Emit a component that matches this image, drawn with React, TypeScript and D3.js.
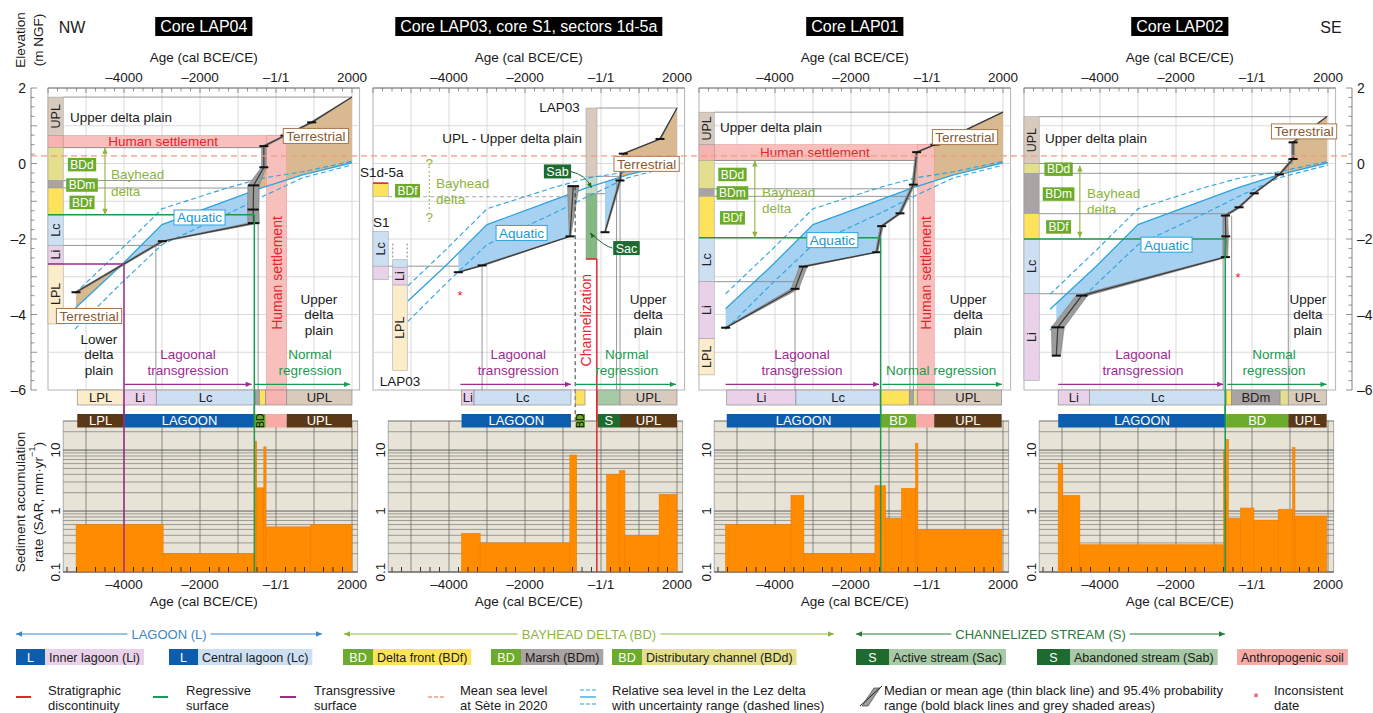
import React from 'react';
import * as d3 from 'd3';

const FONT = '"Liberation Sans", Arial, Helvetica, sans-serif';
const W = 1373;
const H = 713;

/* ------------------------------- data ------------------------------- */
const panelTitles = ['Core LAP04', 'Core LAP03, core S1, sectors 1d-5a', 'Core LAP01', 'Core LAP02'];
const ageTickValues = [-4000, -2000, 0, 2000];
const ageTickLabels = ['\u20134000', '\u20132000', '\u20131/1', '2000'];
const elevTickValues = [2, 0, -2, -4, -6];
const elevTickLabels = ['2', '0', '\u20132', '\u20134', '\u20136'];
const sarTickValues = [0.1, 1, 10];
const sarTickLabels = ['0.1', '1', '10'];
const meanSeaLevelSete2020 = 0.2;

// relative sea level in the Lez delta [year, elevation m NGF]
const rslCenter = [[-5300, -3.85], [-4100, -2.72], [-3000, -1.62], [-1200, -0.95], [-400, -0.65], [700, -0.3], [2000, 0.02]];
const rslUpper = [[-5300, -3.45], [-4100, -2.3], [-3000, -1.2], [-1200, -0.62], [-300, -0.38], [700, -0.22], [2000, 0.06]];
const rslLower = [[-5300, -4.4], [-4100, -3.2], [-3000, -2.15], [-1200, -1.3], [-300, -0.85], [700, -0.38], [2000, -0.04]];
const rslStartYear = [-5290, -5080, -5300, -5320];

// age-depth models [year, elevation, half range of 95.4% probability (years)]
const ageDepthLAP04 = [[-5263, -3.41, 40], [-2990, -2.06, 50], [-590, -1.58, 150], [-600, -1.22, 150], [-590, -0.58, 150], [-320, -0.1, 60], [-320, 0.46, 60], [237, 0.74, 30], [939, 1.09, 40], [2000, 1.76, 0]];
const ageDepthLAP03a = [[-3755, -2.88, 40], [-3130, -2.7, 60], [-815, -1.93, 20], [-730, -0.6, 150]];
const ageDepthLAP03b = [[105, -1.82, 15], [500, -0.45, 30], [587, 0.26, 20], [1553, 0.65, 20], [2000, 1.47, 0]];
const ageDepthLAP01 = [[-5298, -4.35, 30], [-3474, -3.32, 100], [-3255, -2.73, 100], [-1325, -2.35, 30], [-1193, -1.66, 40], [-711, -1.32, 40], [-360, -0.56, 40], [-272, 0.3, 30], [210, 0.5, 30], [2000, 1.36, 0]];
const ageDepthLAP02 = [[-5150, -5.09, 110], [-5110, -4.34, 170], [-4480, -3.5, 150], [-700, -2.48, 60], [-690, -1.93, 70], [-700, -1.38, 60], [-340, -1.16, 40], [60, -0.79, 30], [720, -0.29, 30], [1080, 0.12, 40], [1080, 0.56, 40], [1980, 1.25, 0]];

// core logs [facies, top, bottom, label]
const columnLAP04 = [['UPL', 1.76, 0.74, 'UPL'], ['HS', 0.74, 0.42, ''], ['BDd', 0.42, -0.45, ''], ['BDm', -0.45, -0.65, ''], ['BDf', -0.65, -1.36, ''], ['Lc', -1.36, -2.17, 'Lc'], ['Li', -2.17, -2.66, 'Li'], ['LPL', -2.66, -4.25, 'LPL']];
const columnS1d5a = [['BDf', -0.52, -0.87, '']];
const columnS1 = [['Lc', -1.8, -2.72, 'Lc'], ['Li', -2.72, -3.08, '']];
const columnLAP03low = [['Lc', -2.55, -2.75, ''], ['Li', -2.75, -3.22, 'Li'], ['LPL', -3.22, -5.48, 'LPL']];
const columnLAP03up = [['UPL', 1.47, -0.34, ''], ['Sab', -0.34, -0.8, ''], ['Sac', -0.8, -2.53, '']];
const columnLAP01 = [['UPL', 1.36, 0.5, 'UPL'], ['HS', 0.5, 0.08, ''], ['BDd', 0.08, -0.67, ''], ['BDm', -0.67, -0.87, ''], ['BDf', -0.87, -1.97, ''], ['Lc', -1.97, -3.13, 'Lc'], ['Li', -3.13, -4.64, 'Li'], ['LPL', -4.64, -5.6, 'LPL']];
const columnLAP02 = [['UPL', 1.24, 0.0, 'UPL'], ['BDd', 0.0, -0.26, ''], ['BDm', -0.26, -1.33, ''], ['BDf', -1.33, -2.0, ''], ['Lc', -2.0, -3.45, 'Lc'], ['Li', -3.45, -5.75, 'Li']];

// facies strip under each core [facies, from, to, label]
const faciesRowLAP04 = [['LPL', -5230, -4000, 'LPL'], ['Li', -4000, -3150, 'Li'], ['Lc', -3150, -553, 'Lc'], ['BDm', -553, -440, ''], ['BDf', -440, -270, ''], ['HS', -270, 282, ''], ['UPL', 282, 2000, 'UPL']];
const faciesRowLAP03 = [['Li', -3670, -3340, 'Li'], ['Lc', -3340, -790, 'Lc'], ['BDf', -666, -421, ''], ['Sst', -90, 500, ''], ['UPL', 500, 2000, 'UPL']];
const faciesRowLAP01 = [['Li', -5270, -3450, 'Li'], ['Lc', -3450, -1230, 'Lc'], ['BDf', -1230, -465, ''], ['BDm', -465, -360, ''], ['BDd', -360, -255, ''], ['HS', -255, 190, ''], ['UPL', 190, 1965, 'UPL']];
const faciesRowLAP02 = [['Li', -5100, -4280, 'Li'], ['Lc', -4280, -680, 'Lc'], ['BDf', -680, -535, ''], ['BDm', -535, 740, 'BDm'], ['BDd', 740, 955, ''], ['UPL', 955, 1965, 'UPL']];

// environment strip [environment, from, to, label]
const envRowLAP04 = [['LPL', -5230, -4000, 'LPL'], ['LAGOON', -4000, -553, 'LAGOON'], ['BD', -553, -270, 'BDv'], ['HS', -270, 282, ''], ['UPL', 282, 2000, 'UPL']];
const envRowLAP03 = [['LAGOON', -3670, -790, 'LAGOON'], ['BD', -666, -421, 'BDv'], ['S', -90, 500, 'S'], ['UPL', 500, 2000, 'UPL']];
const envRowLAP01 = [['LAGOON', -5270, -1230, 'LAGOON'], ['BD', -1230, -280, 'BD'], ['HS', -280, 190, ''], ['UPL', 190, 1965, 'UPL']];
const envRowLAP02 = [['LAGOON', -5100, -680, 'LAGOON'], ['BD', -680, 955, 'BD'], ['UPL', 955, 1965, 'UPL']];

// sediment accumulation rate [from, to, SAR mm/yr]
const sarLAP04 = [[-5260, -2970, 0.6], [-2970, -553, 0.2], [-553, -508, 14], [-508, -320, 2.4], [-320, -262, 11.3], [-262, 910, 0.55], [910, 2000, 0.6]];
const sarLAP03 = [[-3670, -3180, 0.43], [-3180, -820, 0.3], [-820, -640, 8.3], [150, 480, 4.0], [480, 630, 4.6], [630, 1530, 0.4], [1530, 2000, 1.87]];
const sarLAP01 = [[-5300, -3580, 0.6], [-3580, -3240, 1.8], [-3240, -1370, 0.2], [-1370, -1090, 2.6], [-1090, -670, 0.76], [-670, -300, 2.35], [-300, -240, 12.9], [-240, 1970, 0.5]];
const sarLAP02 = [[-5100, -4980, 6.0], [-4980, -4530, 1.8], [-4530, -750, 0.28], [-750, -700, 9.6], [-700, -670, 1.6], [-670, -620, 15], [-620, -300, 0.76], [-300, 50, 1.12], [50, 690, 0.71], [690, 1070, 1.07], [1070, 1130, 11], [1130, 1965, 0.83]];

// thin grey correlation lines: horizontal [elev, fromYear, toYear], vertical [year, fromElev, toElev]
const hLinesLAP04 = [[1.76, -5600, 2000], [0.42, -5600, -330], [-0.45, -5600, -590], [-0.65, -5600, -590], [-2.17, -5600, -3000]];
const vLinesLAP04 = [[-3160, -2.17, -6], [-470, -1.58, -6]];
const hLinesLAP03 = [[1.47, -105, 2000], [-2.72, -5600, -3755], [-0.34, -105, 500], [-0.8, -105, 105]];
const vLinesLAP03 = [[-3130, -2.7, -6], [410, -0.45, -6], [500, -0.45, -6]];
const hLinesLAP01 = [[1.36, -5600, 2000], [0.08, -5600, -272], [-0.67, -5600, -400], [-0.87, -5600, -400], [-3.13, -5600, -3474]];
const vLinesLAP01 = [[-3474, -3.32, -6], [-447, -0.6, -6], [-360, -0.56, -6]];
const hLinesLAP02 = [[1.24, -5600, 1980], [0.0, -5600, 1080], [-0.26, -5600, 720], [-1.33, -5600, -700], [-3.45, -5600, -4480]];
const vLinesLAP02 = [[-760, -1.38, -6], [-535, -1.38, -6], [955, 0.12, -6]];

// stratigraphic surfaces [kind, elev, year, startYear]
const surfacesLAP04 = [['trans', -2.66, -4000, -6000], ['reg', -1.36, -570, -6000]];
const surfacesLAP03 = [['disc', -2.53, -110, -395]];
const surfacesLAP01 = [['reg', -1.97, -1220, -6000]];
const surfacesLAP02 = [['reg', -2.0, -705, -6000]];

// process arrows [transgression from, to, regression from, to]
const processArrows = [[-4000, -640, -560, 1950], [-3700, -790, -660, 1970], [-5300, -1260, -1180, 1970], [-5100, -760, -650, 1960]];
// human settlement [top, bottom, vertical band from, to]
const humanSettlement = [[0.74, 0.42, -250, 282], null, [0.5, 0.08, -245, 190], null];
// bayhead delta arrows [year, top, bottom]
const bayheadArrows = [[-4500, 0.42, -1.36], null, [-4530, 0.08, -1.97], [-4530, -0.05, -1.97]];
const inconsistentDates = [[], [[-3710, -3.5]], [], [[-370, -3.02]]];

// text labels [text, year, elev, anchor, colour]
const labelsLAP04 = [
  ['Upper delta plain', -5420, 1.24, 'start', 'ink'], ['Human settlement', -2970, 0.58, 'middle', 'red'],
  ['Bayhead', -4340, -0.29, 'start', 'olive'], ['delta', -4340, -0.72, 'start', 'olive'],
  ['Upper', 1130, -3.58, 'middle', 'ink'], ['delta', 1130, -4.0, 'middle', 'ink'], ['plain', 1130, -4.42, 'middle', 'ink'],
  ['Lower', -4660, -4.64, 'middle', 'ink'], ['delta', -4660, -5.06, 'middle', 'ink'], ['plain', -4660, -5.48, 'middle', 'ink'],
  ['Lagoonal', -2316, -5.06, 'middle', 'purple'], ['transgression', -2316, -5.48, 'middle', 'purple'],
  ['Normal', 895, -5.06, 'middle', 'green'], ['regression', 895, -5.48, 'middle', 'green'],
];
const labelsLAP03 = [
  ['LAP03', -560, 1.48, 'end', 'ink'], ['UPL - Upper delta plain', -2340, 0.66, 'middle', 'ink'],
  ['S1d-5a', -6340, -0.24, 'start', 'ink'], ['S1', -6000, -1.56, 'start', 'ink'], ['LAP03', -5290, -5.77, 'middle', 'ink'],
  ['Bayhead', -4342, -0.53, 'start', 'olive'], ['delta', -4342, -0.95, 'start', 'olive'],
  ['?', -4520, 0.0, 'middle', 'olive'], ['?', -4520, -1.43, 'middle', 'olive'],
  ['Upper', 1240, -3.58, 'middle', 'ink'], ['delta', 1240, -4.0, 'middle', 'ink'], ['plain', 1240, -4.42, 'middle', 'ink'],
  ['Lagoonal', -2180, -5.06, 'middle', 'purple'], ['transgression', -2180, -5.48, 'middle', 'purple'],
  ['Normal', 680, -5.06, 'middle', 'green'], ['regression', 680, -5.48, 'middle', 'green'],
];
const labelsLAP01 = [
  ['Upper delta plain', -5450, 0.95, 'start', 'ink'], ['Human settlement', -2950, 0.29, 'middle', 'red'],
  ['Bayhead', -4340, -0.77, 'start', 'olive'], ['delta', -4340, -1.19, 'start', 'olive'],
  ['Upper', 1080, -3.58, 'middle', 'ink'], ['delta', 1080, -4.0, 'middle', 'ink'], ['plain', 1080, -4.42, 'middle', 'ink'],
  ['Lagoonal', -3290, -5.06, 'middle', 'purple'], ['transgression', -3290, -5.48, 'middle', 'purple'],
  ['Normal regression', 370, -5.48, 'middle', 'green'],
];
const labelsLAP02 = [
  ['Upper delta plain', -5450, 0.66, 'start', 'ink'],
  ['Bayhead', -4340, -0.79, 'start', 'olive'], ['delta', -4340, -1.22, 'start', 'olive'],
  ['Upper', 1470, -3.58, 'middle', 'ink'], ['delta', 1470, -4.0, 'middle', 'ink'], ['plain', 1470, -4.42, 'middle', 'ink'],
  ['Lagoonal', -2870, -5.06, 'middle', 'purple'], ['transgression', -2870, -5.48, 'middle', 'purple'],
  ['Normal', 580, -5.06, 'middle', 'green'], ['regression', 580, -5.48, 'middle', 'green'],
];
// boxed labels [text, year, elev, style]
const boxesLAP04 = [['Terrestrial', 1050, 0.73, 'terr'], ['Terrestrial', -4920, -4.04, 'terr'], ['Aquatic', -2013, -1.43, 'aqua'], ['BDd', -5105, -0.03, 'bd'], ['BDm', -5105, -0.57, 'bd'], ['BDf', -5105, -1.03, 'bd']];
const boxesLAP03 = [['BDf', -5092, -0.72, 'bd'], ['Aquatic', -2090, -1.84, 'aqua'], ['Sab', -1145, -0.21, 'stream'], ['Sac', 670, -2.24, 'stream'], ['Terrestrial', 1200, -0.01, 'terr']];
const boxesLAP01 = [['Terrestrial', 1000, 0.7, 'terr'], ['Aquatic', -2490, -2.03, 'aqua'], ['BDd', -5120, -0.29, 'bd'], ['BDm', -5120, -0.78, 'bd'], ['BDf', -5120, -1.44, 'bd']];
const boxesLAP02 = [['Terrestrial', 1370, 0.85, 'terr'], ['Aquatic', -2250, -2.15, 'aqua'], ['BDd', -5090, -0.15, 'bd'], ['BDm', -5090, -0.81, 'bd'], ['BDf', -5090, -1.68, 'bd']];

// legend entries
const legendGroupLabels = ['LAGOON (L)', 'BAYHEAD DELTA (BD)', 'CHANNELIZED STREAM (S)'];
const legendFaciesTags = ['L', 'L', 'BD', 'BD', 'BD', 'S', 'S', ''];
const legendFaciesTexts = ['Inner lagoon (Li)', 'Central lagoon (Lc)', 'Delta front (BDf)', 'Marsh (BDm)', 'Distributary channel (BDd)', 'Active stream (Sac)', 'Abandoned stream (Sab)', 'Anthropogenic soil'];
const legendFaciesKeys = ['Li', 'Lc', 'BDf', 'BDm', 'BDd', 'Sst', 'Sst', 'HSl'];
const legendSymbolTexts = [
  ['Stratigraphic', 'discontinuity'], ['Regressive', 'surface'], ['Transgressive', 'surface'], ['Mean sea level', 'at S\u00e8te in 2020'],
  ['Relative sea level in the Lez delta', 'with uncertainty range (dashed lines)'],
  ['Median or mean age (thin black line) and 95.4% probability', 'range (bold black lines and grey shaded areas)'], ['Inconsistent', 'date'],
];

/* ----------------------------- styling ----------------------------- */
const COL = {
  ink: '#1a1a1a', red: '#e4262c', green: '#1b9a4f', purple: '#9b2d8e', olive: '#8db43e',
  aquaText: '#1c95d6', rsl: '#2ba4e0', aquaFill: '#a6d1f1', terrFill: '#d9b98f', terrStroke: '#a8774a',
  grid: '#d6d6d6', frame: '#b4b4b4', msl: '#f29b7c', sarBg: '#e7e3d6', sarGrid: '#5e5e5e',
  bar: '#ff8c00', barStroke: '#ee7b00', bdBox: '#6cab2c', streamBox: '#1e6b2f', hs: '#f8c0bd',
};
const faciesFill: Record<string, string> = {
  UPL: '#d8cabd', HS: '#f7b3b0', BDd: '#e4df8d', BDm: '#aaa3a3', BDf: '#fde25b', Lc: '#cddff3', Li: '#e9d2e9', LPL: '#fbeccb',
  Sac: '#86b884', Sab: '#c6dac4', Sst: '#a8c9a5', HSl: '#f7aaa6',
};
const envFill: Record<string, string> = { LPL: '#5b3916', UPL: '#5b3916', LAGOON: '#0c5dae', BD: '#6cab2c', S: '#1e6b2f', HS: '#f7aaa6' };
const tagFill: Record<string, string> = { L: '#0c5dae', BD: '#6cab2c', S: '#1e6b2f' };
const textColor: Record<string, string> = { ink: COL.ink, red: COL.red, olive: COL.olive, purple: COL.purple, green: COL.green };

/* ----------------------------- layout ----------------------------- */
const PX_PER_YEAR = 0.038;
const panelLeft = [48, 373, 699, 1024];
const TOP_Y = 88;
const BOT_Y = 390;
const ROW1_Y = 390;
const ROW1_H = 15;
const ROW2_Y = 414;
const ROW2_H = 13.5;
const SAR_TOP = 421;
const SAR_BOTTOM = 572;

const panels = [
  { ad: [ageDepthLAP04], cols: [[-6000, -5600, columnLAP04]], facies: faciesRowLAP04, env: envRowLAP04, sar: sarLAP04, h: hLinesLAP04, v: vLinesLAP04, surf: surfacesLAP04, labels: labelsLAP04, boxes: boxesLAP04 },
  { ad: [ageDepthLAP03a, ageDepthLAP03b], cols: [[-6000, -5600, columnS1d5a], [-6000, -5600, columnS1], [-5480, -5100, columnLAP03low], [-395, -105, columnLAP03up]], facies: faciesRowLAP03, env: envRowLAP03, sar: sarLAP03, h: hLinesLAP03, v: vLinesLAP03, surf: surfacesLAP03, labels: labelsLAP03, boxes: boxesLAP03 },
  { ad: [ageDepthLAP01], cols: [[-6000, -5600, columnLAP01]], facies: faciesRowLAP01, env: envRowLAP01, sar: sarLAP01, h: hLinesLAP01, v: vLinesLAP01, surf: surfacesLAP01, labels: labelsLAP01, boxes: boxesLAP01 },
  { ad: [ageDepthLAP02], cols: [[-6000, -5600, columnLAP02]], facies: faciesRowLAP02, env: envRowLAP02, sar: sarLAP02, h: hLinesLAP02, v: vLinesLAP02, surf: surfacesLAP02, labels: labelsLAP02, boxes: boxesLAP02 },
];

/* ----------------------------- helpers ----------------------------- */
let _ctx: any = null;
function textW(s: string, fs: number) {
  if (!_ctx && typeof document !== 'undefined') _ctx = document.createElement('canvas').getContext('2d');
  if (!_ctx) return s.length * fs * 0.5;
  _ctx.font = `${fs}px ${FONT}`;
  return _ctx.measureText(s).width;
}
function interp(pts: number[][], t: number) {
  if (t <= pts[0][0]) return pts[0][1];
  for (let k = 1; k < pts.length; k++) {
    if (t <= pts[k][0]) {
      const [t0, e0] = pts[k - 1];
      const [t1, e1] = pts[k];
      return e0 + ((e1 - e0) * (t - t0)) / (t1 - t0);
    }
  }
  return pts[pts.length - 1][1];
}
function curveFrom(pts: number[][], start: number) {
  return [[start, interp(pts, start)], ...pts.filter((p) => p[0] > start)];
}
// split the area between age-depth line and RSL into aquatic (-1) and terrestrial (+1) polygons
function fillPolys(ad: number[][]) {
  const pts = ad.map((p) => ({ t: p[0], e: p[1], d: p[1] - interp(rslCenter, p[0]) }));
  const runs: { s: number; p: { t: number; e: number }[] }[] = [];
  let cur = { s: pts[0].d >= 0 ? 1 : -1, p: [{ t: pts[0].t, e: pts[0].e }] };
  for (let k = 1; k < pts.length; k++) {
    const a = pts[k - 1];
    const b = pts[k];
    const sb = b.d >= 0 ? 1 : -1;
    if (sb !== cur.s) {
      const f = a.d / (a.d - b.d);
      const c = { t: a.t + (b.t - a.t) * f, e: a.e + (b.e - a.e) * f };
      cur.p.push(c);
      runs.push(cur);
      cur = { s: sb, p: [c, { t: b.t, e: b.e }] };
    } else cur.p.push({ t: b.t, e: b.e });
  }
  runs.push(cur);
  return runs.map((r) => {
    const t0 = r.p[0].t;
    const t1 = r.p[r.p.length - 1].t;
    const lo = Math.min(t0, t1);
    const hi = Math.max(t0, t1);
    const knots = rslCenter.map((q) => q[0]).filter((t) => t > lo && t < hi).sort((a, b) => b - a);
    const back = [t1, ...knots, t0].map((t) => ({ t, e: interp(rslCenter, t) }));
    return { s: r.s, poly: [...r.p, ...back] };
  });
}

function Arrow({ x1, y1, x2, y2, color, both = false, w = 1.2, hs = 6 }: any) {
  const a = Math.atan2(y2 - y1, x2 - x1);
  const head = (xx: number, yy: number, ang: number) => {
    const bx = xx - hs * Math.cos(ang);
    const by = yy - hs * Math.sin(ang);
    const px = (hs * 0.45) * Math.sin(ang);
    const py = (hs * 0.45) * Math.cos(ang);
    return `M${xx},${yy}L${bx + px},${by - py}L${bx - px},${by + py}Z`;
  };
  return (
    <g>
      <line x1={x1} y1={y1} x2={x2} y2={y2} stroke={color} strokeWidth={w} />
      <path d={head(x2, y2, a)} fill={color} />
      {both && <path d={head(x1, y1, a + Math.PI)} fill={color} />}
    </g>
  );
}

function BoxLabel({ cx, cy, text, kind }: any) {
  const st: any = {
    terr: { fs: 13.5, fill: '#fff', stroke: COL.terrStroke, color: '#8a5a30', pad: 3 },
    aqua: { fs: 13.5, fill: '#fff', stroke: COL.rsl, color: COL.aquaText, pad: 3 },
    bd: { fs: 12, fill: COL.bdBox, stroke: 'none', color: '#fff', pad: 2.5 },
    stream: { fs: 12.5, fill: COL.streamBox, stroke: 'none', color: '#fff', pad: 2.5 },
  }[kind];
  const w = textW(text, st.fs) + 2 * st.pad;
  const h = st.fs + 1.5;
  return (
    <g>
      <rect x={cx - w / 2} y={cy - h / 2} width={w} height={h} fill={st.fill} stroke={st.stroke} strokeWidth={1} />
      <text x={cx} y={cy} dy="0.36em" textAnchor="middle" fontSize={st.fs} fill={st.color}>{text}</text>
    </g>
  );
}

function RotText({ x, y, text, fs = 13, color = COL.ink }: any) {
  return (
    <text transform={`translate(${x},${y}) rotate(-90)`} textAnchor="middle" dy="0.36em" fontSize={fs} fill={color}>{text}</text>
  );
}

/* ----------------------------- panel ----------------------------- */
function Panel({ i }: { i: number }) {
  const P = panels[i];
  const x0 = panelLeft[i];
  const x = d3.scaleLinear().domain([-6000, 2200]).range([x0, x0 + 8200 * PX_PER_YEAR]);
  const y = d3.scaleLinear().domain([2, -6]).range([TOP_Y, BOT_Y]);
  const ys = d3.scaleLog().domain([0.1, 30]).range([SAR_BOTTOM, SAR_TOP]);
  const line = d3.line<any>().x((d) => x(d[0])).y((d) => y(d[1]));
  const xl = x(-6000);
  const xr = x(2200);
  const cx = (xl + xr) / 2;
  const sxl = x(-5600);
  const sxr = x(2150);

  const gridYears = d3.range(-5000, 2001, 1000);
  const gridElev = d3.range(-5, 2, 1);
  const minorYears = d3.range(-6000, 2201, 250);
  const sarMinor: number[] = [];
  [0.1, 1, 10].forEach((dec) => d3.range(1, 10).forEach((m) => { if (m * dec <= 30) sarMinor.push(m * dec); }));

  const polys = P.ad.flatMap((piece: any) => fillPolys(piece));
  const hs = humanSettlement[i];
  const ba = bayheadArrows[i];
  const pa = processArrows[i];
  const arrowY = y(-5.85);

  return (
    <g>
      {/* title */}
      {(() => {
        const tw = textW(panelTitles[i], 16) + 10;
        return (
          <g>
            <rect x={cx - tw / 2} y={17} width={tw} height={19} fill="#000" />
            <text x={cx} y={26.5} dy="0.36em" textAnchor="middle" fontSize={16} fill="#fff">{panelTitles[i]}</text>
          </g>
        );
      })()}
      <text x={cx} y={57} dy="0.36em" textAnchor="middle" fontSize={13.5} fill={COL.ink}>Age (cal BCE/CE)</text>
      {ageTickValues.map((v, k) => (
        <text key={k} x={x(v)} y={77} dy="0.36em" textAnchor="middle" fontSize={13.5} fill={COL.ink}>{ageTickLabels[k]}</text>
      ))}

      {/* frame and grid */}
      <rect x={xl} y={TOP_Y} width={xr - xl} height={BOT_Y - TOP_Y} fill="#fff" stroke={COL.frame} strokeWidth={1} />
      {gridYears.map((t) => <line key={'gx' + t} x1={x(t)} x2={x(t)} y1={TOP_Y} y2={BOT_Y} stroke={COL.grid} strokeWidth={0.9} />)}
      {gridElev.map((e) => <line key={'gy' + e} x1={xl} x2={xr} y1={y(e)} y2={y(e)} stroke={COL.grid} strokeWidth={0.9} />)}
      {minorYears.map((t) => <line key={'mt' + t} x1={x(t)} x2={x(t)} y1={TOP_Y} y2={TOP_Y + (t % 1000 === 0 ? 5 : 3.5)} stroke="#777" strokeWidth={0.8} />)}
      <line x1={xl} x2={xr} y1={TOP_Y} y2={TOP_Y} stroke="#777" strokeWidth={0.9} />

      {/* aquatic / terrestrial fills */}
      {polys.map((p: any, k: number) => (
        <path key={'f' + k} d={line(p.poly.map((q: any) => [q.t, q.e])) + 'Z'} fill={p.s < 0 ? COL.aquaFill : COL.terrFill} stroke="none" />
      ))}

      {/* human settlement */}
      {hs && (
        <g>
          <rect x={x(-5600)} y={y(hs[0])} width={x(hs[3]) - x(-5600)} height={y(hs[1]) - y(hs[0])} fill={COL.hs} stroke="#e89a98" strokeWidth={0.6} />
          <rect x={x(hs[2])} y={y(hs[0])} width={x(hs[3]) - x(hs[2])} height={BOT_Y - y(hs[0])} fill={COL.hs} stroke="#e89a98" strokeWidth={0.6} />
          <RotText x={(x(hs[2]) + x(hs[3])) / 2} y={y(-2.9)} text="Human settlement" fs={14} color={COL.red} />
        </g>
      )}

      {/* thin correlation lines */}
      {P.h.map((l: any, k: number) => <line key={'h' + k} x1={x(l[1])} x2={x(l[2])} y1={y(l[0])} y2={y(l[0])} stroke="#8a8a8a" strokeWidth={0.9} />)}
      {P.v.map((l: any, k: number) => <line key={'v' + k} x1={x(l[0])} x2={x(l[0])} y1={y(l[1])} y2={y(l[2])} stroke="#8a8a8a" strokeWidth={0.9} />)}

      {/* core columns */}
      {P.cols.map((c: any, k: number) => (
        <g key={'c' + k}>
          {c[2].map((cell: any, m: number) => (
            <g key={m}>
              <rect x={x(c[0])} y={y(cell[1])} width={x(c[1]) - x(c[0])} height={y(cell[2]) - y(cell[1])} fill={faciesFill[cell[0]]} stroke="#9a9a9a" strokeWidth={0.5} />
              {cell[3] && <RotText x={(x(c[0]) + x(c[1])) / 2} y={(y(cell[1]) + y(cell[2])) / 2} text={cell[3]} fs={12.5} color="#222" />}
            </g>
          ))}
        </g>
      ))}

      {/* relative sea level */}
      <path d={line(curveFrom(rslUpper, rslStartYear[i]))!} fill="none" stroke={COL.rsl} strokeWidth={1.1} strokeDasharray="5,3" />
      <path d={line(curveFrom(rslLower, rslStartYear[i]))!} fill="none" stroke={COL.rsl} strokeWidth={1.1} strokeDasharray="5,3" />
      <path d={line(curveFrom(rslCenter, rslStartYear[i]))!} fill="none" stroke={COL.rsl} strokeWidth={1.3} />

      {/* age-depth models */}
      {P.ad.map((piece: any, k: number) => {
        const band = [...piece.map((p: any) => [p[0] - p[2], p[1]]), ...piece.slice().reverse().map((p: any) => [p[0] + p[2], p[1]])];
        return (
          <g key={'ad' + k}>
            <path d={line(band) + 'Z'} fill="#9c9c9c" stroke="#7a7a7a" strokeWidth={0.6} />
            <path d={line(piece.map((p: any) => [p[0], p[1]]))!} fill="none" stroke="#3a3a3a" strokeWidth={1.2} />
            {piece.filter((p: any) => p[2] > 0).map((p: any, m: number) => {
              const hw = Math.max((x(p[0] + p[2]) - x(p[0] - p[2])) / 2, 4.5);
              return <line key={m} x1={x(p[0]) - hw} x2={x(p[0]) + hw} y1={y(p[1])} y2={y(p[1])} stroke="#111" strokeWidth={2} />;
            })}
          </g>
        );
      })}

      {/* panel specific details for LAP03 / S1 / sectors */}
      {i === 1 && (
        <g>
          <line x1={x(-5600)} x2={x(-800)} y1={y(-0.88)} y2={y(-0.88)} stroke="#999" strokeWidth={0.9} strokeDasharray="4,3" />
          <line x1={x(-6000)} x2={x(-5600)} y1={y(-0.52)} y2={y(-0.52)} stroke={COL.red} strokeWidth={1.6} />
          <line x1={x(-5480)} x2={x(-5480)} y1={y(-2.12)} y2={y(-2.55)} stroke="#777" strokeWidth={0.9} strokeDasharray="2,2" />
          <line x1={x(-5100)} x2={x(-5100)} y1={y(-2.12)} y2={y(-2.55)} stroke="#777" strokeWidth={0.9} strokeDasharray="2,2" />
          <line x1={x(-4520)} x2={x(-4520)} y1={y(-0.2)} y2={y(-1.25)} stroke={COL.olive} strokeWidth={1} strokeDasharray="2,2" />
          <line x1={x(-680)} x2={x(-680)} y1={y(-0.6)} y2={ROW2_Y + ROW2_H} stroke="#222" strokeWidth={0.9} strokeDasharray="4,3" />
          <path d={`M${x(-1145) + 13},${y(-0.21)} Q${x(-400)},${y(-0.3)} ${x(-260)},${y(-0.62)}`} fill="none" stroke={COL.streamBox} strokeWidth={1} />
          <path d={`M${x(670) - 14},${y(-2.24)} Q${x(100)},${y(-2.2)} ${x(-270)},${y(-1.85)}`} fill="none" stroke={COL.streamBox} strokeWidth={1} />
          <Arrow x1={x(-300)} y1={y(-0.55)} x2={x(-250)} y2={y(-0.64)} color={COL.streamBox} hs={5} />
          <Arrow x1={x(-220)} y1={y(-1.92)} x2={x(-280)} y2={y(-1.84)} color={COL.streamBox} hs={5} />
          <RotText x={x(-400)} y={y(-4.15)} text="Channelization" fs={14} color={COL.red} />
        </g>
      )}

      {/* stratigraphic surfaces */}
      {P.surf.map((s: any, k: number) => {
        const c = s[0] === 'trans' ? COL.purple : s[0] === 'reg' ? COL.green : COL.red;
        return (
          <g key={'s' + k}>
            <line x1={x(s[3])} x2={x(s[2])} y1={y(s[1])} y2={y(s[1])} stroke={c} strokeWidth={1.5} />
            <line x1={x(s[2])} x2={x(s[2])} y1={y(s[1])} y2={SAR_BOTTOM} stroke={c} strokeWidth={1.5} />
          </g>
        );
      })}

      {/* bayhead delta arrow */}
      {ba && <Arrow x1={x(ba[0])} y1={y(ba[1])} x2={x(ba[0])} y2={y(ba[2])} color={COL.olive} both hs={6} w={1.1} />}

      {/* labels */}
      {P.labels.map((l: any, k: number) => (
        <text key={'l' + k} x={x(l[1])} y={y(l[2])} dy="0.36em" textAnchor={l[3]} fontSize={13.5} fill={textColor[l[4]]}>{l[0]}</text>
      ))}
      {P.boxes.map((b: any, k: number) => <BoxLabel key={'b' + k} cx={x(b[1])} cy={y(b[2])} text={b[0]} kind={b[3]} />)}
      {inconsistentDates[i].map((d: any, k: number) => (
        <text key={'a' + k} x={x(d[0])} y={y(d[1])} dy="0.36em" textAnchor="middle" fontSize={13} fill={COL.red}>*</text>
      ))}

      {/* process arrows */}
      <Arrow x1={x(pa[0])} y1={arrowY} x2={x(pa[1])} y2={arrowY} color={COL.purple} hs={6} w={1.1} />
      <Arrow x1={x(pa[2])} y1={arrowY} x2={x(pa[3])} y2={arrowY} color={COL.green} hs={6} w={1.1} />

      {/* facies row */}
      {P.facies.map((f: any, k: number) => (
        <g key={'fr' + k}>
          <rect x={x(f[1])} y={ROW1_Y} width={x(f[2]) - x(f[1])} height={ROW1_H} fill={faciesFill[f[0]]} stroke="#8e8e8e" strokeWidth={0.7} />
          {f[3] && <text x={(x(f[1]) + x(f[2])) / 2} y={ROW1_Y + ROW1_H / 2} dy="0.36em" textAnchor="middle" fontSize={13} fill="#222">{f[3]}</text>}
        </g>
      ))}

      {/* SAR panel */}
      <rect x={sxl} y={SAR_TOP} width={sxr - sxl} height={SAR_BOTTOM - SAR_TOP} fill={COL.sarBg} stroke="#9a9a9a" strokeWidth={0.8} />
      {sarMinor.map((v, k) => (
        <line key={'sm' + k} x1={sxl} x2={sxr} y1={ys(v)} y2={ys(v)} stroke={COL.sarGrid} strokeWidth={[0.1, 1, 10].includes(v) ? 1 : 0.55} />
      ))}
      {gridYears.map((t) => <line key={'sg' + t} x1={x(t)} x2={x(t)} y1={SAR_TOP} y2={SAR_BOTTOM} stroke={COL.sarGrid} strokeWidth={0.7} />)}
      {P.sar.map((b: any, k: number) => (
        <rect key={'bar' + k} x={x(b[0])} y={ys(b[2])} width={x(b[1]) - x(b[0])} height={SAR_BOTTOM - ys(b[2])} fill={COL.bar} stroke={COL.barStroke} strokeWidth={0.6} />
      ))}
      {d3.range(-5500, 2001, 250).map((t) => (
        <line key={'st' + t} x1={x(t)} x2={x(t)} y1={SAR_BOTTOM} y2={SAR_BOTTOM - (t % 1000 === 0 ? 0 : 5)} stroke="#222" strokeWidth={0.9} />
      ))}
      <line x1={sxl} x2={sxr} y1={SAR_BOTTOM} y2={SAR_BOTTOM} stroke="#777" strokeWidth={0.9} />
      {sarTickValues.map((v, k) => <RotText key={'sl' + k} x={sxl - 8} y={ys(v)} text={sarTickLabels[k]} fs={13.5} />)}
      {ageTickValues.map((v, k) => (
        <text key={'bt' + k} x={x(v)} y={584} dy="0.36em" textAnchor="middle" fontSize={13.5} fill={COL.ink}>{ageTickLabels[k]}</text>
      ))}
      <text x={cx} y={601} dy="0.36em" textAnchor="middle" fontSize={13.5} fill={COL.ink}>Age (cal BCE/CE)</text>

      {/* environment row */}
      {P.env.map((f: any, k: number) => (
        <g key={'er' + k}>
          <rect x={x(f[1])} y={ROW2_Y} width={x(f[2]) - x(f[1])} height={ROW2_H} fill={envFill[f[0]]} />
          {f[3] === 'BDv' ? (
            <RotText x={(x(f[1]) + x(f[2])) / 2} y={ROW2_Y + ROW2_H / 2} text="BD" fs={10.5} color="#111" />
          ) : f[3] ? (
            <text x={(x(f[1]) + x(f[2])) / 2} y={ROW2_Y + ROW2_H / 2} dy="0.36em" textAnchor="middle" fontSize={13} fill="#fff">{f[3]}</text>
          ) : null}
        </g>
      ))}

      {/* surfaces across the SAR panel */}
      {P.surf.map((s: any, k: number) => {
        const c = s[0] === 'trans' ? COL.purple : s[0] === 'reg' ? COL.green : COL.red;
        return <line key={'s2' + k} x1={x(s[2])} x2={x(s[2])} y1={ROW1_Y} y2={SAR_BOTTOM} stroke={c} strokeWidth={1.5} />;
      })}
    </g>
  );
}

function Legend() {
  const FS = 12.5;
  const groupPos = [[16, 322], [344, 834], [856, 1225]];
  const groupColors = ['#3b86c6', '#8db43e', '#2b7a3b'];
  const boxX = [16, 169, 343, 491, 612, 856, 1037, 1237];
  const tagWidth: Record<string, number> = { L: 29, BD: 30, S: 33, '': 0 };
  const symX = [48, 186, 314, 460, 612, 884, 1274];
  const yA = 634;
  const yB = 657;
  const l1 = 690;
  const l2 = 705;
  return (
    <g>
      {legendGroupLabels.map((g, k) => {
        const tw = textW(g, 13) + 8;
        const [a, b] = groupPos[k];
        const mx = (a + b) / 2;
        return (
          <g key={k}>
            <Arrow x1={a} y1={yA} x2={b} y2={yA} color={groupColors[k]} both hs={6} w={1} />
            <rect x={mx - tw / 2} y={yA - 8} width={tw} height={16} fill="#fff" />
            <text x={mx} y={yA} dy="0.36em" textAnchor="middle" fontSize={13} fill={groupColors[k]}>{g}</text>
          </g>
        );
      })}
      {legendFaciesTexts.map((t, k) => {
        const tag = legendFaciesTags[k];
        const tW = tagWidth[tag];
        const w = textW(t, FS) + 8;
        const bx = boxX[k];
        return (
          <g key={k}>
            {tag && <rect x={bx} y={yB - 8} width={tW} height={16} fill={tagFill[tag]} />}
            {tag && <text x={bx + tW / 2} y={yB} dy="0.36em" textAnchor="middle" fontSize={FS} fill="#fff">{tag}</text>}
            <rect x={bx + tW} y={yB - 8} width={w} height={16} fill={faciesFill[legendFaciesKeys[k]]} />
            <text x={bx + tW + 4} y={yB} dy="0.36em" fontSize={FS} fill={COL.ink}>{t}</text>
          </g>
        );
      })}
      <line x1={16} x2={31} y1={697} y2={697} stroke={COL.red} strokeWidth={2} />
      <line x1={153} x2={168} y1={697} y2={697} stroke={COL.green} strokeWidth={2} />
      <line x1={280} x2={296} y1={697} y2={697} stroke={COL.purple} strokeWidth={2} />
      <line x1={428} x2={446} y1={697} y2={697} stroke={COL.msl} strokeWidth={1.3} strokeDasharray="4,2" />
      <line x1={580} x2={596} y1={690} y2={690} stroke={COL.rsl} strokeWidth={1.2} strokeDasharray="4,2" />
      <line x1={580} x2={596} y1={697} y2={697} stroke={COL.rsl} strokeWidth={1.3} />
      <line x1={580} x2={596} y1={704} y2={704} stroke={COL.rsl} strokeWidth={1.2} strokeDasharray="4,2" />
      <path d="M862,706 L868,706 L880,688 L874,688 Z" fill="#9c9c9c" stroke="#555" strokeWidth={0.8} />
      <line x1={860} x2={882} y1={706} y2={686} stroke="#222" strokeWidth={1} />
      <text x={1256} y={697} dy="0.36em" textAnchor="middle" fontSize={13} fill={COL.red}>*</text>
      {legendSymbolTexts.map((it, k) => (
        <g key={k}>
          <text x={symX[k]} y={l1} dy="0.36em" fontSize={13} fill={COL.ink}>{it[0]}</text>
          <text x={symX[k]} y={l2} dy="0.36em" fontSize={13} fill={COL.ink}>{it[1]}</text>
        </g>
      ))}
    </g>
  );
}

export default function App() {
  const y = d3.scaleLinear().domain([2, -6]).range([TOP_Y, BOT_Y]);
  const elevMinor = d3.range(-6, 2.001, 0.25);
  const LAX = 31;
  const RAX = 1352;
  return (
    <svg width={W} height={H} viewBox={`0 0 ${W} ${H}`} style={{ position: 'absolute', left: 0, top: 0, fontFamily: FONT, background: '#fff' }}>
      <rect x={0} y={0} width={W} height={H} fill="#fff" />
      <text x={72} y={27} dy="0.36em" textAnchor="middle" fontSize={16} fill={COL.ink}>NW</text>
      <text x={1331} y={27} dy="0.36em" textAnchor="middle" fontSize={16} fill={COL.ink}>SE</text>
      <RotText x={20} y={40} text="Elevation" fs={13.5} />
      <RotText x={38} y={40} text="(m NGF)" fs={13.5} />
      <text transform="translate(20,502) rotate(-90)" textAnchor="middle" dy="0.36em" fontSize={13.5} fill={COL.ink}>Sediment accumulation</text>
      <text transform="translate(38,502) rotate(-90)" textAnchor="middle" dy="0.36em" fontSize={13.5} fill={COL.ink}>
        {'rate (SAR, mm\u00b7yr'}
        <tspan fontSize={9} dy="-0.9em">{'\u22121'}</tspan>
        <tspan dy="0.6em">)</tspan>
      </text>

      {/* elevation axes */}
      <line x1={LAX} x2={LAX} y1={TOP_Y} y2={BOT_Y} stroke="#777" strokeWidth={0.9} />
      <line x1={RAX} x2={RAX} y1={TOP_Y} y2={BOT_Y} stroke="#777" strokeWidth={0.9} />
      {elevMinor.map((e, k) => {
        const major = Math.abs(e - Math.round(e)) < 1e-6;
        const len = major ? 6 : 3.5;
        return (
          <g key={k}>
            <line x1={LAX} x2={LAX + len} y1={y(e)} y2={y(e)} stroke="#777" strokeWidth={0.8} />
            <line x1={RAX} x2={RAX - len} y1={y(e)} y2={y(e)} stroke="#777" strokeWidth={0.8} />
          </g>
        );
      })}
      {elevTickValues.map((v, k) => (
        <g key={'et' + k}>
          <text x={26} y={y(v)} dy="0.36em" textAnchor="end" fontSize={14} fill={COL.ink}>{elevTickLabels[k]}</text>
          <text x={1357} y={y(v)} dy="0.36em" textAnchor="start" fontSize={14} fill={COL.ink}>{elevTickLabels[k]}</text>
        </g>
      ))}

      {[0, 1, 2, 3].map((i) => <Panel key={i} i={i} />)}

      {/* mean sea level at Sète in 2020 */}
      <line x1={LAX} x2={RAX} y1={y(meanSeaLevelSete2020)} y2={y(meanSeaLevelSete2020)} stroke={COL.msl} strokeWidth={1.2} strokeDasharray="6,4" />

      <Legend />
    </svg>
  );
}
